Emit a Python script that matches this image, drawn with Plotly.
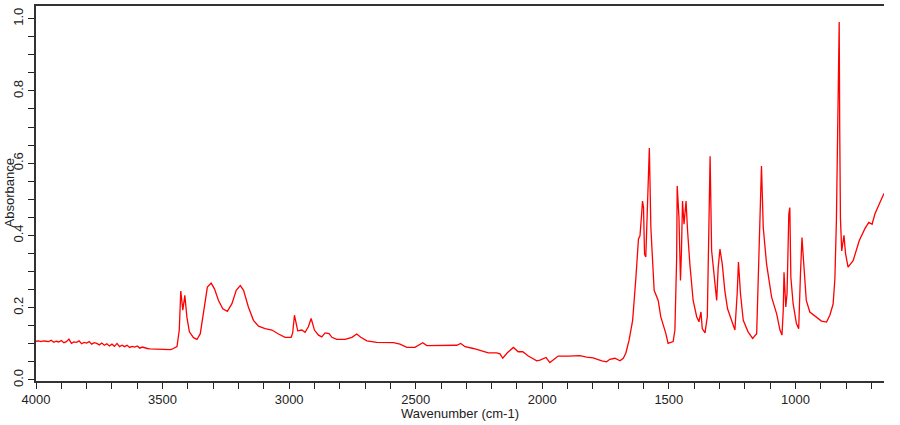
import plotly.graph_objects as go

# Wavenumber (cm-1) and absorbance
wavenumber = [
    4000, 3990, 3980, 3970, 3960, 3950, 3940, 3930, 3920, 3910, 3900, 3890, 3880, 3870,
    3860, 3850, 3840, 3830, 3820, 3810, 3800, 3790, 3780, 3770, 3760, 3750, 3740, 3730,
    3720, 3710, 3700, 3690, 3680, 3670, 3660, 3650, 3640, 3630, 3620, 3610, 3600, 3590,
    3580, 3570, 3560, 3550, 3530, 3500, 3470, 3463, 3443, 3434, 3428, 3420, 3412, 3404,
    3394, 3378, 3364, 3351, 3338, 3323, 3308, 3295, 3279, 3262, 3244, 3226, 3209, 3193,
    3180, 3161, 3141, 3121, 3095, 3068, 3042, 3016, 2992, 2986, 2979, 2966, 2950, 2937,
    2924, 2913, 2900, 2884, 2871, 2858, 2842, 2831, 2812, 2779, 2752, 2733, 2717, 2693,
    2654, 2608, 2588, 2562, 2535, 2503, 2486, 2472, 2456, 2417, 2377, 2338, 2322, 2305,
    2272, 2239, 2213, 2180, 2167, 2156, 2138, 2114, 2095, 2077, 2055, 2022, 2009, 1985,
    1970, 1957, 1937, 1897, 1851, 1825, 1799, 1765, 1746, 1733, 1713, 1693, 1680, 1670,
    1657, 1643, 1637, 1630, 1620, 1614, 1608, 1604, 1600, 1596, 1591, 1584, 1577, 1571,
    1558, 1542, 1532, 1512, 1503, 1483, 1476, 1469, 1467, 1460, 1454, 1450, 1446, 1440,
    1432, 1426, 1417, 1404, 1390, 1381, 1373, 1368, 1357, 1348, 1342, 1337, 1331, 1322,
    1311, 1305, 1298, 1289, 1279, 1268, 1252, 1239, 1230, 1225, 1217, 1206, 1187, 1169,
    1153, 1147, 1140, 1134, 1127, 1114, 1094, 1074, 1061, 1053, 1048, 1045, 1038, 1033,
    1026, 1022, 1018, 1009, 996, 987, 980, 974, 967, 957, 943, 917, 897, 877,
    864, 851, 844, 838, 835, 830, 827, 825, 822, 817, 813, 808, 802, 792,
    772, 748, 726, 710, 697, 686, 667, 650,
]
absorbance = [
    0.107, 0.108, 0.106, 0.108, 0.107, 0.106, 0.110, 0.104, 0.107, 0.105, 0.109, 0.103, 0.106, 0.113,
    0.101, 0.105, 0.104, 0.108, 0.100, 0.104, 0.102, 0.106, 0.099, 0.103, 0.101, 0.097, 0.102, 0.096,
    0.100, 0.094, 0.099, 0.093, 0.101, 0.092, 0.096, 0.092, 0.096, 0.090, 0.093, 0.091, 0.094, 0.088,
    0.091, 0.088, 0.087, 0.086, 0.085, 0.084, 0.084, 0.085, 0.092, 0.138, 0.246, 0.193, 0.234, 0.174,
    0.133, 0.117, 0.112, 0.128, 0.193, 0.257, 0.268, 0.252, 0.220, 0.197, 0.190, 0.211, 0.248, 0.261,
    0.248, 0.202, 0.165, 0.149, 0.142, 0.138, 0.127, 0.118, 0.118, 0.130, 0.179, 0.136, 0.138, 0.132,
    0.147, 0.170, 0.138, 0.124, 0.119, 0.130, 0.128, 0.118, 0.112, 0.112, 0.118, 0.127, 0.118, 0.108,
    0.104, 0.104, 0.103, 0.099, 0.090, 0.090, 0.096, 0.103, 0.095, 0.095, 0.096, 0.096, 0.101, 0.092,
    0.087, 0.081, 0.075, 0.075, 0.072, 0.060, 0.075, 0.090, 0.078, 0.078, 0.066, 0.053, 0.055, 0.062,
    0.048, 0.055, 0.066, 0.066, 0.067, 0.063, 0.061, 0.053, 0.050, 0.057, 0.060, 0.053, 0.060, 0.074,
    0.110, 0.165, 0.211, 0.284, 0.390, 0.399, 0.454, 0.495, 0.477, 0.348, 0.340, 0.488, 0.642, 0.422,
    0.248, 0.220, 0.175, 0.129, 0.101, 0.106, 0.138, 0.340, 0.537, 0.450, 0.275, 0.358, 0.495, 0.431,
    0.495, 0.413, 0.321, 0.220, 0.175, 0.161, 0.188, 0.142, 0.130, 0.175, 0.459, 0.619, 0.358, 0.294,
    0.220, 0.312, 0.362, 0.321, 0.248, 0.197, 0.165, 0.138, 0.239, 0.326, 0.239, 0.165, 0.133, 0.115,
    0.128, 0.266, 0.394, 0.592, 0.422, 0.321, 0.229, 0.183, 0.138, 0.124, 0.193, 0.298, 0.202, 0.239,
    0.459, 0.477, 0.284, 0.211, 0.156, 0.142, 0.294, 0.394, 0.321, 0.220, 0.188, 0.174, 0.163, 0.160,
    0.179, 0.210, 0.280, 0.441, 0.610, 0.936, 0.991, 0.700, 0.445, 0.357, 0.380, 0.400, 0.350, 0.312,
    0.330, 0.385, 0.418, 0.436, 0.431, 0.459, 0.490, 0.516,
]

x_tick_vals = [4000, 3500, 3000, 2500, 2000, 1500, 1000]
y_tick_vals = [0.0, 0.2, 0.4, 0.6, 0.8, 1.0]

tick_font = dict(family="Liberation Sans, Arial, sans-serif", size=13, color="#222222")

fig = go.Figure()
fig.add_trace(go.Scatter(
    x=wavenumber, y=absorbance, mode="lines",
    line=dict(color="#ff0000", width=1.3), showlegend=False,
))

fig.update_layout(
    width=900, height=425,
    margin=dict(l=36, r=16, t=4, b=44),
    paper_bgcolor="white", plot_bgcolor="white",
    xaxis=dict(
        range=[4000, 650], tickvals=x_tick_vals, ticks="outside", ticklen=6,
        tickwidth=1.3, tickcolor="#222", showline=True, linecolor="#333",
        linewidth=1.5, mirror=True, showgrid=False, zeroline=False,
        tickfont=tick_font,
        minor=dict(dtick=100, tick0=0, ticks="outside", ticklen=6,
                   tickwidth=1.3, tickcolor="#222", showgrid=False),
    ),
    yaxis=dict(
        range=[-0.003, 1.035], tickvals=y_tick_vals, tickformat=".1f",
        ticks="outside", ticklen=6, tickwidth=1.3, tickcolor="#222",
        showline=True, linecolor="#333", linewidth=1.5, showgrid=False,
        zeroline=False, tickangle=-90, tickfont=tick_font,
        minor=dict(dtick=0.05, tick0=0, ticks="outside", ticklen=6,
                   tickwidth=1.3, tickcolor="#222", showgrid=False),
    ),
    annotations=[
        dict(text="Wavenumber (cm-1)", xref="paper", yref="paper",
             x=0.5, y=0, yshift=-32, xanchor="center", yanchor="middle",
             showarrow=False, font=tick_font),
        dict(text="Absorbance", xref="paper", yref="paper",
             x=0, y=0.5, xshift=-27, textangle=-90, xanchor="center",
             yanchor="middle", showarrow=False, font=tick_font),
    ],
)

fig.write_html("out.html")
